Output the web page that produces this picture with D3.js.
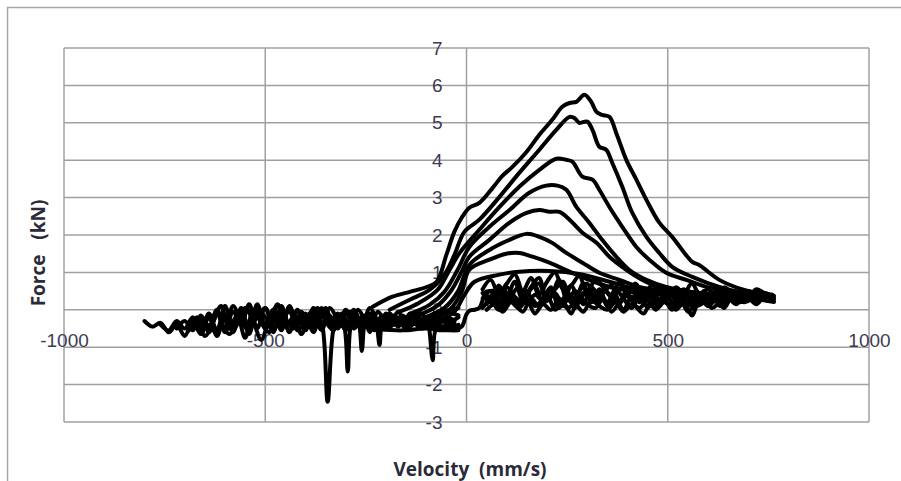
<!DOCTYPE html>
<html>
<head>
<meta charset="utf-8">
<script src="https://cdn.jsdelivr.net/npm/d3@7/dist/d3.min.js"></script>
<style>
  html, body { margin: 0; padding: 0; background: #fff; }
  svg { display: block; }
  .tick text { font-family: "Liberation Sans", Arial, sans-serif; font-size: 19px; fill: #3c3c52; }
  .title { font-family: "Open Sans", "DejaVu Sans", sans-serif; font-weight: bold; font-size: 19px; fill: #2a2a38; white-space: pre; }
</style>
</head>
<body>
<script>
// Axis ticks
const velocityTicks = [-1000, -500, 0, 500, 1000];
const forceTicks = [-3, -2, -1, 0, 1, 2, 3, 4, 5, 6, 7];

// Loading branches (velocity mm/s, force kN), one per test amplitude
const hump1V = [-233,-184,-141,-99,-74,-50,-30,-12,7,32,65,89,114,149,181,213,238,256,273,293,310,323,337,355,372,397,422,447,479,511,561,578,628,690,764];
const hump1F = [0.08,0.35,0.48,0.61,0.75,1.47,2.09,2.46,2.73,2.86,3.26,3.58,3.82,4.22,4.68,5.08,5.43,5.53,5.56,5.75,5.56,5.29,5.21,5.16,4.73,4.01,3.48,2.94,2.33,1.95,1.28,1.20,0.80,0.53,0.37];
const hump2V = [-191,-141,-92,-55,-30,-5,32,82,131,181,223,256,268,280,300,313,330,347,362,387,412,447,479,511,561,628,690,764];
const hump2F = [0,0.27,0.53,0.94,1.47,2.09,2.41,3.02,3.66,4.28,4.81,5.16,5.13,5.00,5.03,4.81,4.36,4.28,3.93,3.29,2.59,1.95,1.52,1.15,0.88,0.61,0.45,0.32];
const hump3V = [-166,-117,-72,-42,-17,32,82,131,181,223,248,263,288,313,330,355,387,422,454,496,546,603,677,764];
const hump3F = [-0.05,0.19,0.53,1.07,1.52,2.14,2.75,3.29,3.74,4.04,4.01,3.96,3.56,3.48,3.21,2.75,2.22,1.68,1.34,0.99,0.80,0.59,0.43,0.27];
const hump4V = [-141,-92,-55,-22,7,57,107,156,198,226,248,273,305,337,372,404,447,496,578,677,764];
const hump4F = [-0.11,0.13,0.48,1.07,1.68,2.22,2.67,3.13,3.32,3.32,3.21,2.75,2.33,1.87,1.42,1.07,0.80,0.61,0.45,0.35,0.21];
const hump5V = [-122,-72,-37,-12,7,57,107,149,181,206,231,256,288,323,355,397,437,479,553,653,752];
const hump5F = [-0.16,0.11,0.53,1.02,1.42,1.87,2.33,2.59,2.67,2.62,2.62,2.41,2.06,1.79,1.42,1.07,0.80,0.61,0.48,0.37,0.27];
const hump6V = [-104,-55,-22,7,57,107,149,181,213,248,288,330,380,429,504,603,739];
const hump6F = [-0.21,0.05,0.48,1.20,1.60,1.87,2.03,1.95,1.79,1.52,1.26,0.99,0.80,0.61,0.48,0.37,0.27];
const hump7V = [-87,-42,-12,7,57,99,131,164,206,256,305,355,429,528,677];
const hump7F = [-0.27,0,0.48,1.07,1.34,1.50,1.52,1.42,1.26,1.02,0.80,0.61,0.48,0.37,0.27];
const hump8V = [-67,-30,-5,20,82,131,206,280,355,429,528];
const hump8F = [-0.27,-0.05,0.40,0.75,0.94,1.02,1.04,0.96,0.75,0.53,0.40];
// Smallest cycle: step through zero velocity
const stepV = [-220,-160,-100,-60,-30,-12,0,8,20,32,40,48,60,90];
const stepF = [-0.52,-0.55,-0.50,-0.55,-0.52,-0.45,-0.12,-0.02,0.0,0.05,0.25,0.48,0.50,0.55];

// Chatter on the negative side (velocity grids, force per trace; null = not reached)
const negV = [-800,-780,-760,-740,-720,-700,-680,-660,-640,-620,-600,-580,-560,-540,-520,-500,-480,-460,-440,-420,-400,-380,-360,-340,-320,-300,-280,-260,-240,-220,-200,-180,-160,-140,-120,-100,-80,-60,-40,-20];
const negVb = [-790,-770,-750,-730,-710,-690,-670,-650,-630,-610,-590,-570,-550,-530,-510,-490,-470,-450,-430,-410,-390,-370,-350,-330,-310,-290,-270,-250,-230,-210,-190,-170,-150,-130,-110,-90,-70,-50,-30];
const neg1F = [-0.30,-0.45,-0.35,-0.60,-0.40,-0.70,-0.30,-0.65,-0.20,-0.70,-0.15,-0.60,0.05,-0.55,0.10,-0.50,0.00,-0.45,0.05,-0.40,-0.10,-0.50,-0.05,-0.45,-0.10,-0.40,-0.15,-0.45,-0.20,-0.40,-0.25,-0.35,-0.30,-0.40,-0.35,-0.40,-0.45,-0.50,-0.55,-0.55];
const neg2F = [null,null,-0.40,-0.55,-0.30,-0.50,-0.20,-0.60,-0.10,-0.55,0.10,-0.45,-0.10,-0.65,0.15,-0.40,-0.05,-0.55,0.10,-0.35,-0.20,-0.60,0.05,-0.30,-0.15,-0.55,0.00,-0.35,-0.25,-0.50,-0.10,-0.40,-0.30,-0.45,-0.20,-0.35,-0.40,-0.30,-0.45,-0.40];
const neg3F = [null,null,null,null,-0.50,-0.30,-0.55,-0.15,-0.45,0.00,-0.60,-0.05,-0.40,0.15,-0.50,0.05,-0.35,-0.10,-0.60,0.00,-0.45,-0.15,-0.55,0.05,-0.25,-0.50,-0.10,-0.40,0.05,-0.30,-0.45,-0.15,-0.35,-0.20,-0.40,-0.30,-0.35,-0.25,-0.30,-0.20];
const neg4F = [null,null,null,null,null,null,-0.45,-0.25,-0.60,-0.10,-0.50,0.10,-0.30,-0.55,0.00,-0.20,-0.60,0.10,-0.40,-0.20,-0.55,0.05,-0.35,-0.15,-0.50,0.00,-0.40,-0.20,-0.45,-0.05,-0.35,-0.20,-0.40,-0.10,-0.30,-0.25,-0.15,-0.30,-0.10,-0.15];
const neg5F = [null,null,null,null,null,null,null,null,-0.40,-0.60,-0.25,-0.50,-0.05,-0.45,-0.20,0.05,-0.50,-0.25,-0.05,-0.55,-0.30,0.00,-0.45,-0.20,-0.35,-0.05,-0.50,-0.25,-0.10,-0.40,-0.20,-0.35,-0.15,-0.30,-0.05,-0.20,-0.10,-0.05,0.00,0.05];
const neg6F = [null,null,null,null,null,-0.55,-0.20,-0.70,-0.35,0.10,-0.50,-0.15,-0.75,0.00,-0.35,-0.60,0.15,-0.25,-0.50,-0.05,-0.40,0.05,-0.30,-0.55,-0.10,-0.45,0.00,-0.30,-0.50,-0.15,-0.35,-0.05,-0.40,-0.25,-0.45,-0.30,-0.50,-0.40,-0.35];
const neg7F = [null,null,null,null,null,null,null,null,null,-0.30,-0.65,-0.40,0.05,-0.30,-0.80,-0.25,0.10,-0.45,-0.20,-0.65,-0.10,-0.35,0.05,-0.50,-0.25,-0.05,-0.40,-0.15,-0.55,-0.30,-0.10,-0.45,-0.20,-0.35,-0.50,-0.25,-0.40,-0.20,-0.30];
// Impact spikes on the negative side
const spikeV = [-420,-400,-385,-370,-358,-345,-330,-318,-305,-295,-287,-275,-266,-260,-252,-240,-230,-222,-216,-208,-190,-170,-150,-130,-110,-95,-92,-84,-77,-65,-45,-25];
const spikeF = [-0.35,-0.15,-0.45,-0.20,-0.45,-2.46,-0.50,-0.25,-0.40,-1.65,-0.40,-0.20,-0.45,-1.10,-0.35,-0.60,-0.25,-0.50,-0.94,-0.35,-0.45,-0.30,-0.50,-0.35,-0.45,-0.40,-0.55,-1.35,-0.55,-0.45,-0.50,-0.48];

// Chatter on the positive side
const posV = [40,60,80,100,120,140,160,180,200,220,240,260,280,300,320,340,360,380,400,420,440,460,480,500,520,540,560,580,600,620,640,660,680,700,720,740,760];
const posVb = [50,70,90,110,130,150,170,190,210,230,250,270,290,310,330,350,370,390,410,430,450,470,490,510,530,550,570,590,610,630,650,670,690,710,730,750];
const pos1F = [0.55,0.80,0.45,0.70,0.95,0.50,0.85,0.40,0.75,1.00,0.55,0.65,0.90,0.45,0.80,0.60,0.35,0.75,0.50,0.70,0.40,0.65,0.55,0.35,0.60,0.45,0.70,0.40,0.55,0.35,0.60,0.45,0.50,0.35,0.55,0.45,0.40];
const pos2F = [0.30,0.50,0.15,0.60,0.35,0.20,0.55,0.70,0.25,0.45,0.10,0.65,0.30,0.50,0.20,0.55,0.35,0.15,0.60,0.40,0.25,0.50,0.10,0.45,0.30,0.55,0.20,0.40,0.15,0.50,0.30,0.45,0.25,0.50,0.35,0.45,0.35];
const pos3F = [0.05,0.25,0.00,0.35,0.15,-0.05,0.30,0.10,0.40,0.00,0.20,-0.10,0.35,0.15,0.05,0.30,-0.05,0.20,0.40,0.10,-0.10,0.25,0.15,0.35,0.00,0.20,-0.15,0.30,0.10,0.25,0.05,0.35,0.20,0.30,0.15,0.35,0.30];
const pos4F = [0.20,0.45,0.10,0.35,0.60,0.15,0.40,0.25,0.55,0.05,0.45,0.30,0.70,0.20,0.50,0.10,0.40,0.60,0.25,0.45,0.05,0.35,0.55,0.20,0.40,0.10,0.50,0.30,0.45,0.15,0.40,0.30,0.50,0.35,0.45,0.40];
const pos5F = [0.40,0.15,0.55,0.30,0.10,0.45,0.65,0.20,0.35,0.80,0.25,0.50,0.15,0.60,0.35,0.20,0.55,0.30,0.05,0.40,0.50,0.15,0.35,0.45,0.10,0.40,0.25,0.50,0.20,0.45,0.35,0.25,0.45,0.30,0.40,0.35];
const pos6F = [0.00,0.15,-0.05,0.20,0.05,0.25,-0.10,0.15,0.00,0.30,0.05,0.15,-0.05,0.25,0.10,0.00,0.20,-0.05,0.15,0.05,0.25,0.00,0.20,0.10,0.30,-0.05,0.15,0.25,0.05,0.20,0.30,0.15,0.35,0.25,0.30,0.35];
const pos7F = [0.45,0.20,0.65,0.35,0.75,0.25,0.60,0.85,0.30,0.55,0.75,0.20,0.50,0.70,0.30,0.45,0.65,0.25,0.40,0.55,0.20,0.45,0.30,0.55,0.25,0.40,0.10,0.45,0.30,0.40,0.20,0.35,0.45,0.25,0.40,0.30,0.35];
const pos8F = [0.15,0.35,0.05,0.40,0.20,0.50,0.10,0.30,0.60,0.15,0.35,0.05,0.45,0.25,0.55,0.15,0.30,0.00,0.35,0.20,0.45,0.10,0.30,0.00,0.25,0.35,0.10,0.20,0.40,0.10,0.25,0.40,0.20,0.30,0.40,0.30];

const W = 901, H = 481;
const plot = { left: 64, right: 869, top: 48, bottom: 422 };

const svg = d3.select("body").append("svg").attr("width", W).attr("height", H);

// chart frame
svg.append("rect")
  .attr("x", 7.5).attr("y", 7.5).attr("width", W + 20).attr("height", H + 20)
  .attr("fill", "none").attr("stroke", "#a8a8a8").attr("stroke-width", 1.5);

const x = d3.scaleLinear().domain([-1000, 1000]).range([plot.left, plot.right]);
const y = d3.scaleLinear().domain([-3, 7]).range([plot.bottom, plot.top]);

const gridColor = "#a0a0a0";
const grid = svg.append("g").attr("stroke", gridColor).attr("stroke-width", 1.5);
grid.selectAll("line.h").data(forceTicks).join("line")
  .attr("x1", plot.left).attr("x2", plot.right)
  .attr("y1", d => y(d)).attr("y2", d => y(d));
grid.selectAll("line.v").data(velocityTicks).join("line")
  .attr("y1", plot.top).attr("y2", plot.bottom)
  .attr("x1", d => x(d)).attr("x2", d => x(d));

// Tick labels via axis generators, placed at the zero lines
const plain = d => String(d);
const yAxis = d3.axisLeft(y).tickValues(forceTicks).tickSize(0).tickPadding(24).tickFormat(plain);
const gy = svg.append("g").attr("transform", `translate(${x(0)},0)`).call(yAxis);
gy.select(".domain").remove();

const xAxis = d3.axisBottom(x).tickValues(velocityTicks).tickSize(0).tickPadding(24).tickFormat(plain);
const gx = svg.append("g").attr("transform", `translate(0,${y(0)})`).call(xAxis);
gx.select(".domain").remove();

// Data traces
const line = d3.line()
  .defined(d => d[1] != null)
  .x(d => x(d[0])).y(d => y(d[1]))
  .curve(d3.curveCatmullRom.alpha(0.5));

const pair = (vs, fs) => vs.map((v, i) => [v, fs[i]]);
const traces = [
  pair(negV, neg1F), pair(negV, neg2F), pair(negV, neg3F), pair(negV, neg4F), pair(negV, neg5F),
  pair(negVb, neg6F), pair(negVb, neg7F),
  pair(spikeV, spikeF),
  pair(posV, pos1F), pair(posV, pos2F), pair(posV, pos3F), pair(posV, pos7F),
  pair(posVb, pos4F), pair(posVb, pos5F), pair(posVb, pos6F), pair(posVb, pos8F),
  pair(stepV, stepF),
  pair(hump8V, hump8F), pair(hump7V, hump7F), pair(hump6V, hump6F), pair(hump5V, hump5F),
  pair(hump4V, hump4F), pair(hump3V, hump3F), pair(hump2V, hump2F), pair(hump1V, hump1F)
];

svg.append("g").selectAll("path").data(traces).join("path")
  .attr("d", line)
  .attr("fill", "none")
  .attr("stroke", "#000")
  .attr("stroke-width", 4)
  .attr("stroke-linejoin", "round")
  .attr("stroke-linecap", "round");

// Axis titles
svg.append("text").attr("class", "title")
  .attr("transform", `translate(45,253) rotate(-90)`)
  .attr("text-anchor", "middle")
  .text("Force   (kN)");
svg.append("text").attr("class", "title")
  .attr("x", 470).attr("y", 476)
  .attr("text-anchor", "middle")
  .text("Velocity  (mm/s)");
</script>
</body>
</html>
